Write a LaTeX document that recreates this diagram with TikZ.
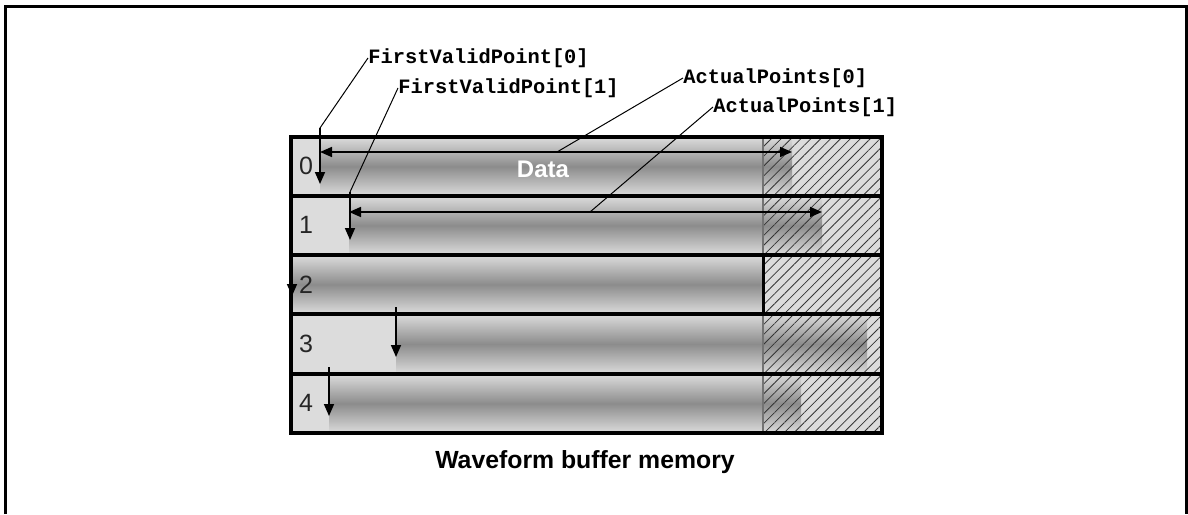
\documentclass[tikz,border=0pt]{standalone}
\usepackage{fontspec}
\setmainfont{Liberation Sans}
\newfontfamily\codefont{Liberation Mono}
\usetikzlibrary{patterns.meta,arrows.meta}

\definecolor{cellgray}{HTML}{DCDCDC}
\definecolor{bandgray}{HTML}{8C8C8C}

\tikzset{
  grid line/.style={line width=2pt},
  flow/.style={line width=0.8pt, -{Triangle[length=6pt,width=5pt]}},
  both flow/.style={line width=0.8pt, {Triangle[length=6pt,width=5pt]}-{Triangle[length=6pt,width=5pt]}},
  leader/.style={line width=0.5pt},
  ptr/.style={font=\codefont\bfseries\fontsize{10.2}{12}\selectfont, inner sep=0pt, anchor=west},
  rownum/.style={font=\fontsize{12.5}{14}\selectfont, inner sep=0pt, text=black!85},
}

\begin{document}
\begin{tikzpicture}[x=0.5pt,y=-0.5pt]
        \useasboundingbox (0,0) rectangle (1188,514);
        % outer frame
        \draw[line width=1.5pt] (5,514) -- (5,6) -- (1186,6) -- (1186,514);
        % memory rows
        \fill[cellgray] (291,137) rectangle (882,433);
        \foreach \ya/\yb/\s/\e in {137/196/320/792, 196/255/349/822, 255/314/291/763, 314/374/396/867, 374/433/329/801}{
          \shade[top color=cellgray, bottom color=cellgray, middle color=bandgray] (\s,\ya) rectangle (\e,\yb);
        }
        \fill[pattern={Lines[angle=45,distance=3.5pt,line width=0.4pt]}, pattern color=black!80] (763,137) rectangle (882,433);
        \draw[line width=1.2pt, black!55] (763,137) -- (763,433);
        \draw[line width=1.5pt] (763,255) -- (763,314);
        \foreach \y in {196,255,314,374}
          \draw[grid line] (291,\y) -- (882,\y);
        \draw[grid line] (291,137) rectangle (882,433);
        \foreach \n/\y in {0/166,1/225,2/285,3/344,4/403}
          \node[rownum] (n\n) at (306,\y) {\n};
        \node[font=\bfseries\fontsize{12}{14}\selectfont, text=white] (data) at (543,169) {Data};
        % pointers
        \node[ptr] (fvp0) at (368,58) {FirstValidPoint[0]};
        \node[ptr] (fvp1) at (398,88) {FirstValidPoint[1]};
        \node[ptr] (ap0) at (683,78) {ActualPoints[0]};
        \node[ptr] (ap1) at (713,107) {ActualPoints[1]};
        \coordinate (fv0) at (320,128);
        \coordinate (fv0e) at (320,184);
        \coordinate (fv1) at (350,192);
        \coordinate (fv1e) at (350,240);
        \coordinate (fv2) at (292,250);
        \coordinate (fv2e) at (292,296);
        \coordinate (fv3) at (396,307);
        \coordinate (fv3e) at (396,357);
        \coordinate (fv4) at (329,367);
        \coordinate (fv4e) at (329,416);
        \coordinate (a0s) at (320,152);
        \coordinate (a0e) at (792,152);
        \coordinate (a1s) at (349,212);
        \coordinate (a1e) at (822,212);
        \coordinate (a0hit) at (557,152);
        \coordinate (a1hit) at (590,212);
        \draw[leader] (fvp0.west) -- (fv0);
        \draw[leader] (fvp1.west) -- (fv1);
        \draw[leader] (ap0.west) -- (a0hit);
        \draw[leader] (ap1.west) -- (a1hit);
        \foreach \i in {0,...,4}
          \draw[flow] (fv\i) -- (fv\i e);
        \draw[both flow] (a0s) -- (a0e);
        \draw[both flow] (a1s) -- (a1e);
        \node[font=\bfseries\fontsize{12.4}{15}\selectfont] (caption) at (585,462) {Waveform buffer memory};
\end{tikzpicture}
\end{document}
